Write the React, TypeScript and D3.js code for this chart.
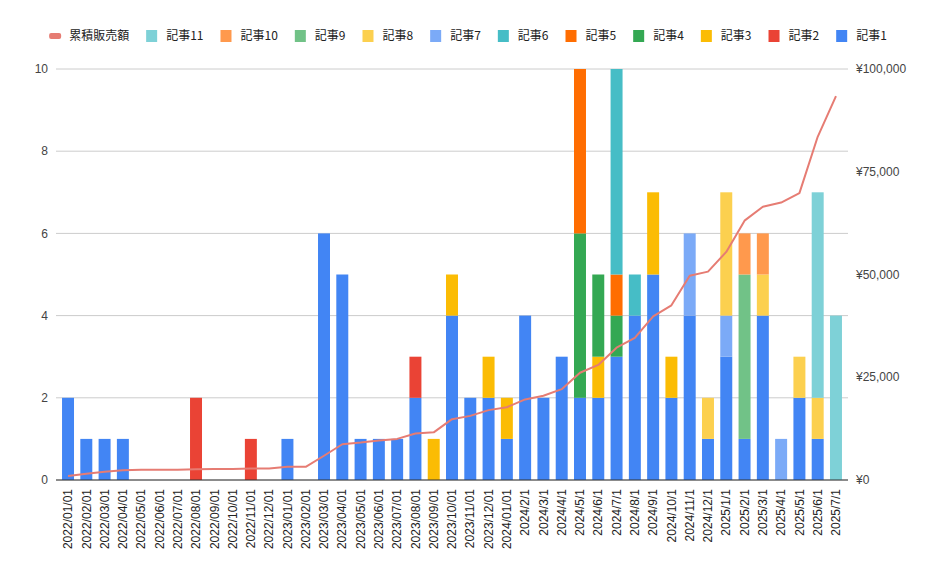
// @ts-nocheck
import React from "react";
import * as d3 from "d3";

const categories = [
  "2022/01/01", "2022/02/01", "2022/03/01", "2022/04/01", "2022/05/01", "2022/06/01",
  "2022/07/01", "2022/08/01", "2022/09/01", "2022/10/01", "2022/11/01", "2022/12/01",
  "2023/01/01", "2023/02/01", "2023/03/01", "2023/04/01", "2023/05/01", "2023/06/01",
  "2023/07/01", "2023/08/01", "2023/09/01", "2023/10/01", "2023/11/01", "2023/12/01",
  "2024/01/01", "2024/2/1", "2024/3/1", "2024/4/1", "2024/5/1", "2024/6/1",
  "2024/7/1", "2024/8/1", "2024/9/1", "2024/10/1", "2024/11/1", "2024/12/1",
  "2025/1/1", "2025/2/1", "2025/3/1", "2025/4/1", "2025/5/1", "2025/6/1", "2025/7/1",
];

const seriesNames = ["記事1", "記事2", "記事3", "記事4", "記事5", "記事6", "記事7", "記事8", "記事9", "記事10", "記事11"];
const seriesColors = ["#4285f4", "#ea4335", "#fbbc04", "#34a853", "#ff6d01", "#46bdc6", "#7baaf7", "#fcd04f", "#71c287", "#ff994d", "#7ed1d7"];

const article1 = [2, 1, 1, 1, 0, 0, 0, 0, 0, 0, 0, 0, 1, 0, 6, 5, 1, 1, 1, 2, 0, 4, 2, 2, 1, 4, 2, 3, 2, 2, 3, 4, 5, 2, 4, 1, 3, 1, 4, 0, 2, 1, 0];
const article2 = [0, 0, 0, 0, 0, 0, 0, 2, 0, 0, 1, 0, 0, 0, 0, 0, 0, 0, 0, 1, 0, 0, 0, 0, 0, 0, 0, 0, 0, 0, 0, 0, 0, 0, 0, 0, 0, 0, 0, 0, 0, 0, 0];
const article3 = [0, 0, 0, 0, 0, 0, 0, 0, 0, 0, 0, 0, 0, 0, 0, 0, 0, 0, 0, 0, 1, 1, 0, 1, 1, 0, 0, 0, 0, 1, 0, 0, 2, 1, 0, 0, 0, 0, 0, 0, 0, 0, 0];
const article4 = [0, 0, 0, 0, 0, 0, 0, 0, 0, 0, 0, 0, 0, 0, 0, 0, 0, 0, 0, 0, 0, 0, 0, 0, 0, 0, 0, 0, 4, 2, 1, 0, 0, 0, 0, 0, 0, 0, 0, 0, 0, 0, 0];
const article5 = [0, 0, 0, 0, 0, 0, 0, 0, 0, 0, 0, 0, 0, 0, 0, 0, 0, 0, 0, 0, 0, 0, 0, 0, 0, 0, 0, 0, 4, 0, 1, 0, 0, 0, 0, 0, 0, 0, 0, 0, 0, 0, 0];
const article6 = [0, 0, 0, 0, 0, 0, 0, 0, 0, 0, 0, 0, 0, 0, 0, 0, 0, 0, 0, 0, 0, 0, 0, 0, 0, 0, 0, 0, 0, 0, 5, 1, 0, 0, 0, 0, 0, 0, 0, 0, 0, 0, 0];
const article7 = [0, 0, 0, 0, 0, 0, 0, 0, 0, 0, 0, 0, 0, 0, 0, 0, 0, 0, 0, 0, 0, 0, 0, 0, 0, 0, 0, 0, 0, 0, 0, 0, 0, 0, 2, 0, 1, 0, 0, 1, 0, 0, 0];
const article8 = [0, 0, 0, 0, 0, 0, 0, 0, 0, 0, 0, 0, 0, 0, 0, 0, 0, 0, 0, 0, 0, 0, 0, 0, 0, 0, 0, 0, 0, 0, 0, 0, 0, 0, 0, 1, 3, 0, 1, 0, 1, 1, 0];
const article9 = [0, 0, 0, 0, 0, 0, 0, 0, 0, 0, 0, 0, 0, 0, 0, 0, 0, 0, 0, 0, 0, 0, 0, 0, 0, 0, 0, 0, 0, 0, 0, 0, 0, 0, 0, 0, 0, 4, 0, 0, 0, 0, 0];
const article10 = [0, 0, 0, 0, 0, 0, 0, 0, 0, 0, 0, 0, 0, 0, 0, 0, 0, 0, 0, 0, 0, 0, 0, 0, 0, 0, 0, 0, 0, 0, 0, 0, 0, 0, 0, 0, 0, 1, 1, 0, 0, 0, 0];
const article11 = [0, 0, 0, 0, 0, 0, 0, 0, 0, 0, 0, 0, 0, 0, 0, 0, 0, 0, 0, 0, 0, 0, 0, 0, 0, 0, 0, 0, 0, 0, 0, 0, 0, 0, 0, 0, 0, 0, 0, 0, 0, 5, 4];

// 累積販売額 (right axis, yen)
const cumulativeSales = [
  1000, 1500, 2000, 2400, 2500, 2500, 2500, 2600, 2700, 2700, 2800, 2800,
  3200, 3200, 5900, 8700, 9100, 9600, 10000, 11300, 11600, 14800, 15600, 17000,
  17700, 19600, 20500, 22100, 26100, 28000, 32200, 34600, 39800, 42500, 49700, 50700,
  55500, 63100, 66500, 67500, 69800, 83500, 93400,
];

const leftTicks = [0, 2, 4, 6, 8, 10];
const rightTicks = [0, 25000, 50000, 75000, 100000];
const lineName = "累積販売額";
const lineColor = "#e67c73";

const W = 936;
const H = 578;
const margin = { top: 69, right: 88, bottom: 98, left: 56 };
const FONT = "'Liberation Sans', Arial, sans-serif";
const CJK = "'Noto Sans CJK JP', 'Liberation Sans', sans-serif";

export default function App() {
  const allSeries = [article1, article2, article3, article4, article5, article6, article7, article8, article9, article10, article11];
  const rows = categories.map((c, i) => {
    const r: any = { cat: c };
    seriesNames.forEach((s, k) => (r[s] = allSeries[k][i]));
    return r;
  });
  const stacked = d3.stack().keys(seriesNames)(rows);

  const x = d3.scaleBand().domain(categories).range([margin.left, W - margin.right]).paddingInner(0.345).paddingOuter(0.33);
  const y = d3.scaleLinear().domain([0, 10]).range([H - margin.bottom, margin.top]);
  const y2 = d3.scaleLinear().domain([0, 100000]).range([H - margin.bottom, margin.top]);

  const line = d3
    .line<number>()
    .x((_, i) => x(categories[i]) + x.bandwidth() / 2)
    .y((d) => y2(d));

  // legend layout: line first, then 記事11 ... 記事1
  const legendItems = [{ name: lineName, color: lineColor, isLine: true }].concat(
    seriesNames.map((n, k) => ({ name: n, color: seriesColors[k], isLine: false })).reverse()
  );
  const textWidth = (s: string) => s.split("").reduce((a, ch) => a + (/[0-9]/.test(ch) ? 6.67 : 12), 0);
  let cursor = 0;
  const legendPos = legendItems.map((it) => {
    const sw = it.isLine ? 12 : 11;
    const gap = it.isLine ? 8 : 9;
    const p = { ...it, x: cursor, sw, gap };
    cursor += sw + gap + textWidth(it.name) + 17;
    return p;
  });
  const legendWidth = cursor - 17;
  const legendStart = (W - legendWidth) / 2;
  const legendY = 36;

  return (
    <svg width={W} height={H} style={{ position: "absolute", left: 0, top: 0, background: "#fff" }}>
      {/* grid */}
      {leftTicks.map((t) => (
        <line key={t} x1={margin.left} x2={W - margin.right} y1={y(t)} y2={y(t)} stroke="#cccccc" strokeWidth={1} />
      ))}
      {leftTicks.map((t) => (
        <text key={"l" + t} x={margin.left - 8} y={y(t)} dy="0.35em" textAnchor="end" fontSize={12} fill="#444" fontFamily={FONT}>
          {t}
        </text>
      ))}
      {rightTicks.map((t) => (
        <text key={"r" + t} x={W - margin.right + 8} y={y2(t)} dy="0.35em" textAnchor="start" fontSize={12} fill="#444" fontFamily={FONT}>
          {"¥" + d3.format(",")(t)}
        </text>
      ))}

      {/* bars */}
      {stacked.map((layer, k) => (
        <g key={layer.key} fill={seriesColors[k]}>
          {layer.map((d, i) =>
            d[1] - d[0] > 0 ? (
              <rect key={i} x={x(categories[i])} width={x.bandwidth()} y={y(d[1])} height={y(d[0]) - y(d[1])} />
            ) : null
          )}
        </g>
      ))}

      {/* baseline */}
      <line x1={margin.left} x2={W - margin.right} y1={y(0)} y2={y(0)} stroke="#333" strokeWidth={1} />

      {/* cumulative line */}
      <path d={line(cumulativeSales)} fill="none" stroke={lineColor} strokeWidth={2} strokeLinejoin="round" />

      {/* x labels */}
      {categories.map((c) => {
        const cx = x(c) + x.bandwidth() / 2;
        const cy = H - margin.bottom + 9;
        return (
          <text
            key={c}
            transform={`translate(${cx},${cy}) rotate(-90)`}
            dy="0.35em"
            textAnchor="end"
            fontSize={12}
            fill="#222"
            fontFamily={FONT}
          >
            {c}
          </text>
        );
      })}

      {/* legend */}
      <g transform={`translate(${legendStart},${legendY})`}>
        {legendPos.map((it) => (
          <g key={it.name} transform={`translate(${it.x},0)`}>
            {it.isLine ? (
              <rect x={0} y={-3} width={12} height={6} rx={2} fill={it.color} />
            ) : (
              <rect x={0} y={-6} width={11} height={12} fill={it.color} />
            )}
            <text x={it.sw + it.gap} y={0} dy="0.35em" fontSize={12} fill="#222" fontFamily={CJK}>
              {it.name}
            </text>
          </g>
        ))}
      </g>
    </svg>
  );
}
